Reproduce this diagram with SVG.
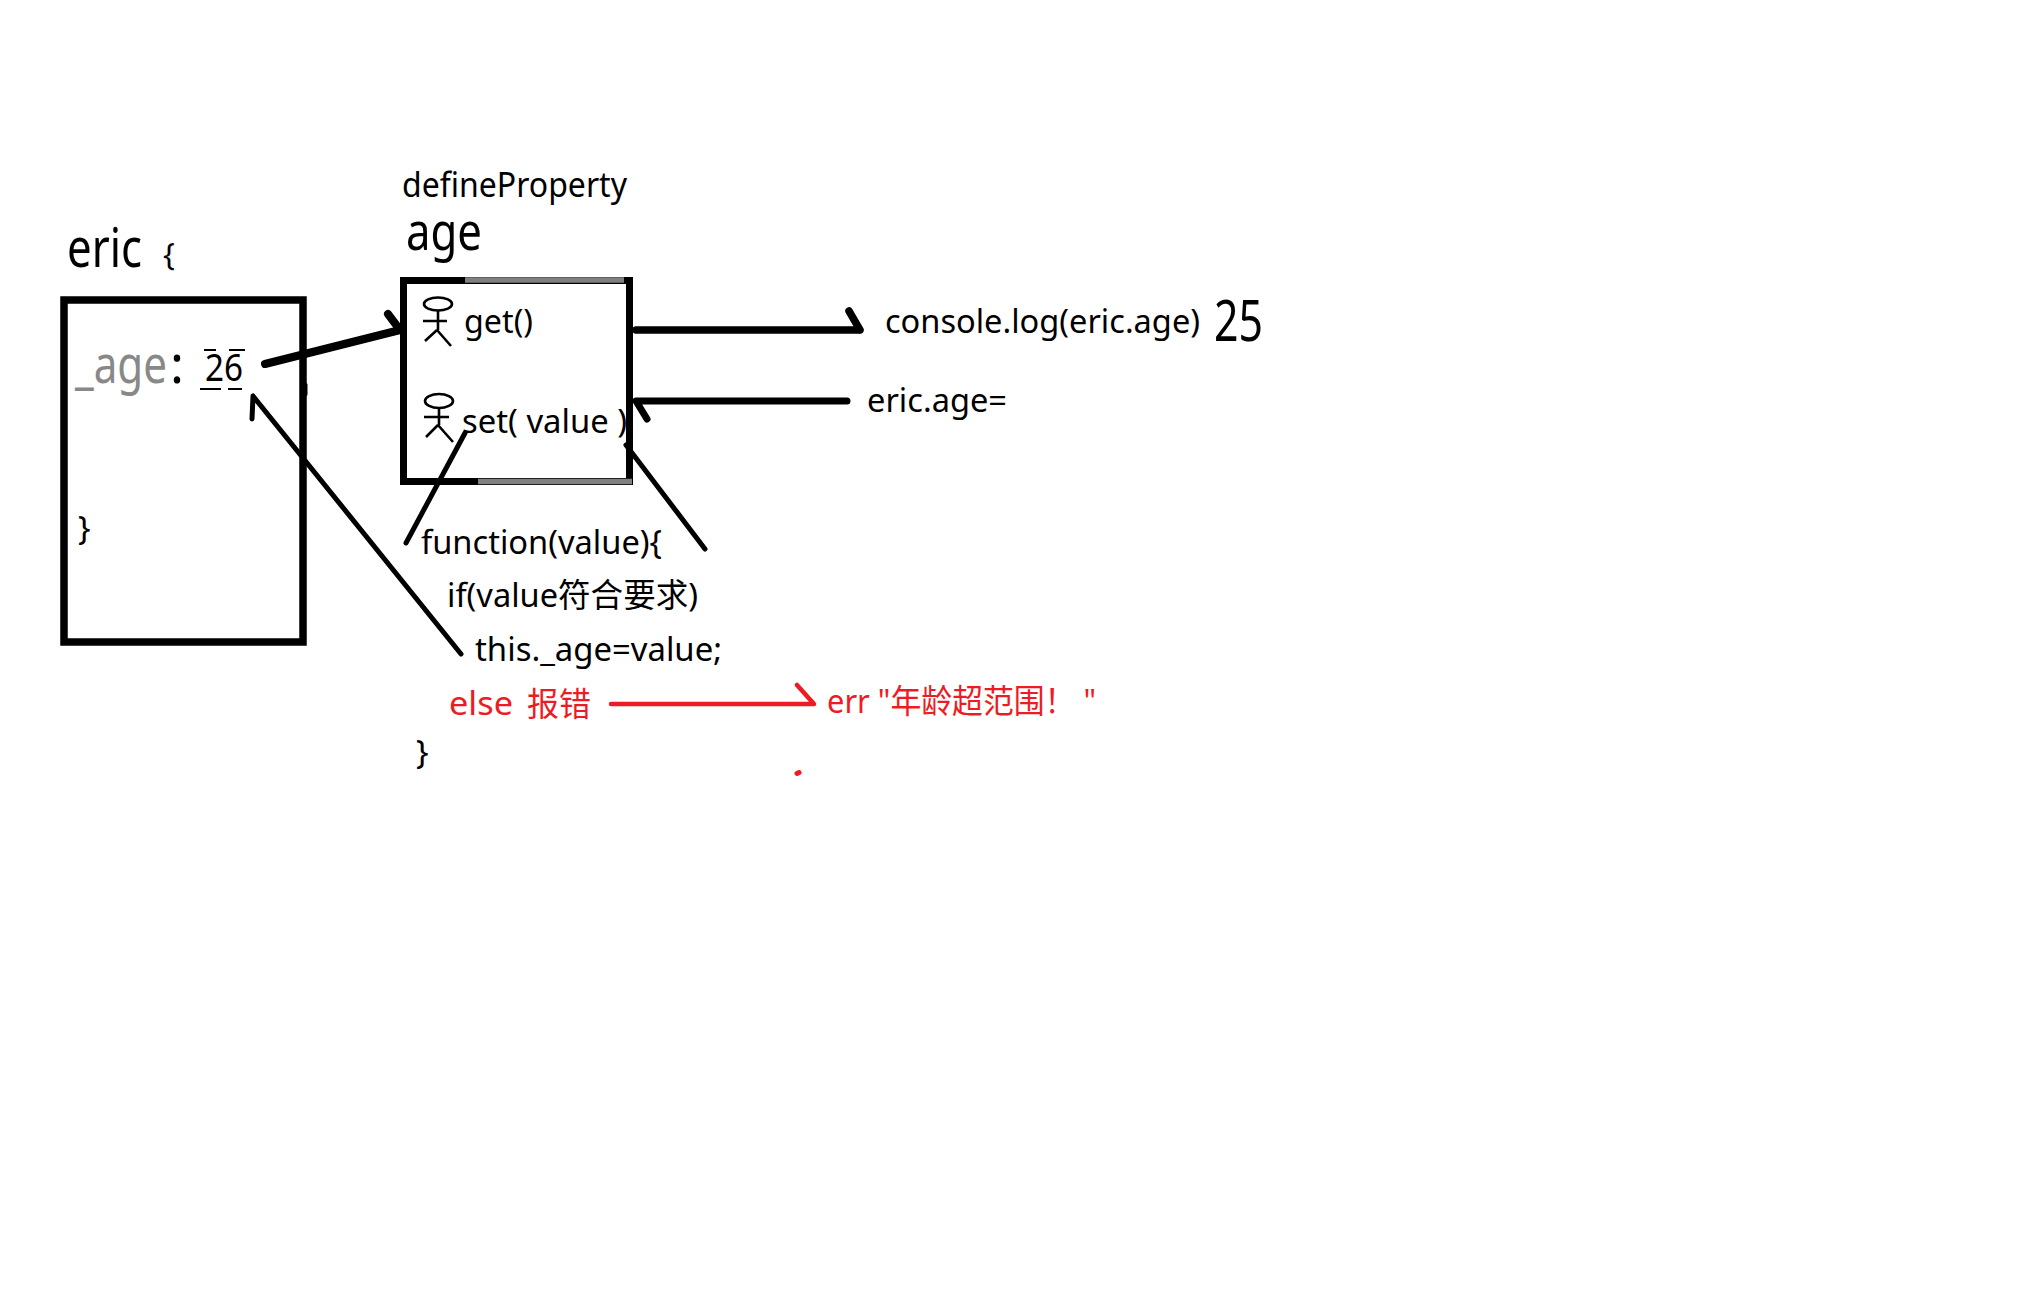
<svg xmlns="http://www.w3.org/2000/svg" width="2036" height="1294" viewBox="0 0 2036 1294">
<style>
text{font-family:"Noto Sans","Noto Sans CJK SC",sans-serif;fill:#000;white-space:pre}
.red{fill:#ed1c24}
.grey{fill:#888}
.c{fill:none;stroke:#000;stroke-linecap:round;stroke-linejoin:round}
.fig{fill:none;stroke:#000;stroke-width:2.6}
.t30{font-size:33px}
</style>
<rect width="2036" height="1294" fill="#fff"/>
<g id="eric">
<rect x="64" y="300" width="239" height="342" fill="none" stroke="#000" stroke-width="7.5"/>
<path d="M305 385V394" class="c" stroke-width="5"/>
<text x="67" y="267" font-size="54" textLength="75" lengthAdjust="spacingAndGlyphs">eric</text>
<text x="163" y="265" font-size="31">{</text>
<text x="75" y="383" font-size="53" textLength="92" lengthAdjust="spacingAndGlyphs" class="grey">_age</text>
<text x="170" y="383" font-size="53" textLength="14" lengthAdjust="spacingAndGlyphs">:</text>
<text x="205" y="381" font-size="38" textLength="38" lengthAdjust="spacingAndGlyphs">26</text>
<path d="M204 350H216M229 350H245M200 389H221M228 389H242" fill="none" stroke="#000" stroke-width="2"/>
<text x="78" y="540" class="t30">}</text>
</g>
<g id="age">
<rect x="403.500" y="280.500" width="226" height="201" fill="none" stroke="#000" stroke-width="7"/>
<path d="M465 280H624M478 481.500H632" fill="none" stroke="#808080" stroke-width="5.500"/>
<path d="M402 402V412" class="c" stroke-width="3"/>
<text x="402" y="197" font-size="34" textLength="225" lengthAdjust="spacingAndGlyphs">defineProperty</text>
<text x="406" y="250" font-size="53" textLength="76" lengthAdjust="spacingAndGlyphs">age</text>
</g>
<g id="getter">
<ellipse cx="438" cy="304" rx="14" ry="6.500" class="fig"/>
<path d="M438 311V330M423 321H447M437 330L425 341M437 330L451 346" class="fig"/>
<text x="464" y="333" class="t30" textLength="69" lengthAdjust="spacingAndGlyphs">get()</text>
</g>
<g id="setter">
<ellipse cx="439" cy="401" rx="14" ry="7" class="fig"/>
<path d="M439 408V425M424 417H449M438 425L426 437M438 425L453 442" class="fig"/>
<text x="462" y="433" class="t30" textLength="165" lengthAdjust="spacingAndGlyphs">set( value )</text>
</g>
<g id="function-body">
<text x="421" y="554" class="t30" textLength="241" lengthAdjust="spacingAndGlyphs">function(value){</text>
<text x="447" y="607" class="t30" textLength="251" lengthAdjust="spacingAndGlyphs">if(value符合要求)</text>
<text x="475" y="661" class="t30" textLength="247" lengthAdjust="spacingAndGlyphs">this._age=value;</text>
<text x="449" y="715" class="t30 red" textLength="64" lengthAdjust="spacingAndGlyphs">else</text>
<text x="527" y="716" class="t30 red" textLength="64" lengthAdjust="spacingAndGlyphs">报错</text>
<text x="416" y="764" class="t30">}</text>
</g>
<g id="err">
<text x="827" y="713" class="t30 red" textLength="269" lengthAdjust="spacingAndGlyphs">err "年龄超范围！ "</text>
</g>
<g id="console-log">
<text x="885" y="333" class="t30" textLength="315" lengthAdjust="spacingAndGlyphs">console.log(eric.age)</text>
<text x="1214" y="341" font-size="56" textLength="49" lengthAdjust="spacingAndGlyphs">25</text>
</g>
<g id="eric-age-assign">
<text x="867" y="412" class="t30" textLength="140" lengthAdjust="spacingAndGlyphs">eric.age=</text>
</g>
<g id="connectors">
<path class="c" stroke-width="8" d="M265 364L400 330M388 314L400 330"/>
<path class="c" stroke-width="7.500" d="M636 330H860M849 311L860 330"/>
<path class="c" stroke-width="7" d="M847 401H636L647 419"/>
<path class="c" stroke-width="5" d="M465 433L406 543"/>
<path class="c" stroke-width="5" d="M626 445L705 549"/>
<path class="c" stroke-width="5" d="M461 654L253 396L252 419"/>
<path class="c" style="stroke:#ed1c24" stroke-width="4.500" d="M611 704H814L797 685"/>
<path class="c" style="stroke:#ed1c24" stroke-width="5" d="M797 773.500L799 772.500"/>
</g>
</svg>
